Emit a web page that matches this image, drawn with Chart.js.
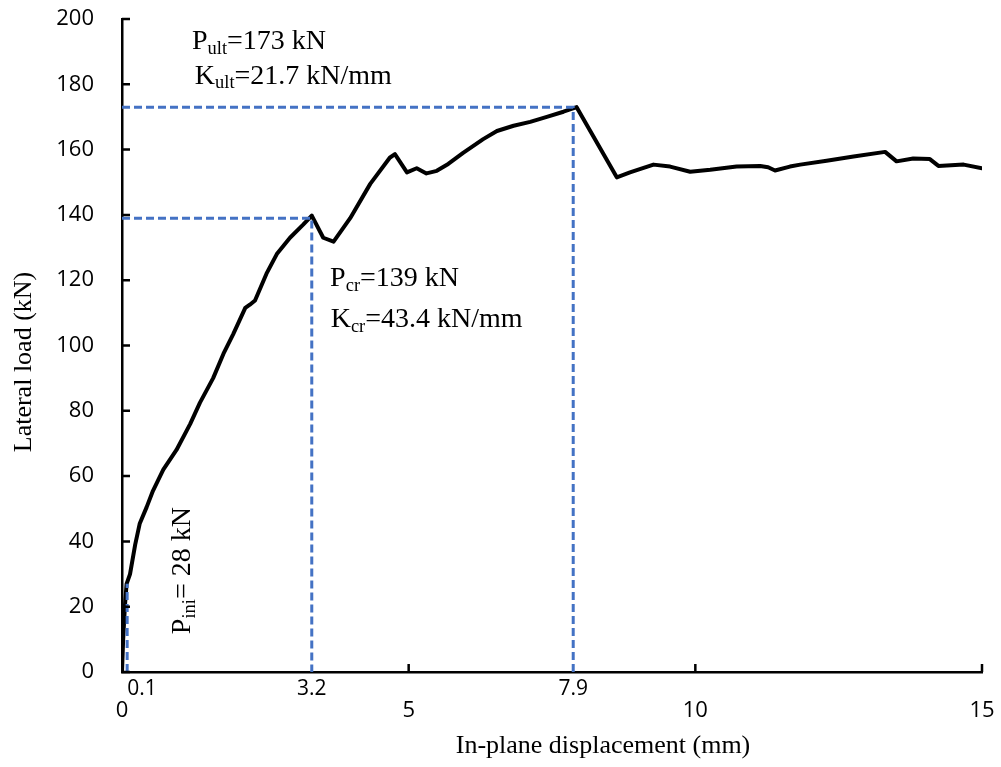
<!DOCTYPE html>
<html>
<head>
<meta charset="utf-8">
<title>Lateral load vs in-plane displacement</title>
<script src="https://cdn.jsdelivr.net/npm/chart.js@4.4.1/dist/chart.umd.min.js"></script>
<style>
  html, body { margin: 0; padding: 0; background: #ffffff; }
  #wrap { width: 1001px; height: 767px; position: relative; }
</style>
</head>
<body>
<div id="wrap"><canvas id="loadChart"></canvas></div>
<script>
// ======================================================
// DATA
// ======================================================

// load-displacement curve (mm, kN)
const dispMM = [
  0, 0.02, 0.05, 0.08, 0.14, 0.23, 0.31, 0.43, 0.54, 0.72, 0.95, 1.19, 1.36,
  1.59, 1.77, 1.94, 2.15, 2.23, 2.32, 2.52, 2.70, 2.93, 3.16, 3.31, 3.51, 3.69,
  3.98, 4.33, 4.67, 4.76, 4.97, 5.14, 5.31, 5.49, 5.69, 5.95, 6.30, 6.54, 6.83,
  7.12, 7.41, 7.70, 7.93, 8.63, 8.86, 9.27, 9.56, 9.91, 10.26, 10.72, 11.13,
  11.27, 11.39, 11.65, 11.83, 12.29, 12.76, 13.31, 13.51, 13.80, 14.09, 14.24,
  14.68, 15.0
];
const loadKN = [
  0, 10, 20, 27, 30, 39, 45.5, 50.5, 55.5, 62, 68, 76, 82.5,
  90, 97.5, 103.5, 111.5, 112.5, 113.8, 122, 128, 133, 137, 139.8, 133, 131.8,
  139, 149.5, 157.5, 158.6, 153, 154.3, 152.7, 153.5, 155.6, 159, 163.2, 165.7, 167.3,
  168.5, 170, 171.6, 173, 151.5, 153, 155.4, 154.8, 153.2, 153.8, 154.8, 155,
  154.6, 153.6, 154.8, 155.4, 156.6, 157.9, 159.3, 156.4, 157.3, 157.1, 155,
  155.4, 154.3
];

// dashed guide lines
const iniGuideX = [0.09, 0.09];
const iniGuideY = [0, 27];
const crGuideX = [0, 3.31, 3.31];
const crGuideY = [139, 139, 0];
const ultGuideX = [0, 7.87, 7.87];
const ultGuideY = [173, 173, 0];

// extra labels under the x axis
const markLabels = ["0.1", "3.2", "7.9"];
const markValues = [0.09, 3.31, 7.87];

const X_MIN = 0, X_MAX = 15, X_STEP = 5;
const Y_MIN = 0, Y_MAX = 200, Y_STEP = 20;

// ======================================================
// HELPERS
// ======================================================

function toPoints(xs, ys) {
  return xs.map((x, i) => ({ x: x, y: ys[i] }));
}

const SERIF = '"Liberation Serif", "Times New Roman", serif';
const SANS = '"Open Sans", "Liberation Sans", sans-serif';
const BLUE = "#4472c4";

// draws text with subscripts, parts = [{t, sub}]
function drawRich(ctx, parts, x, y, size) {
  let cx = x;
  parts.forEach((p) => {
    const s = p.sub ? size * 0.66 : size;
    ctx.font = `${s}px ${SERIF}`;
    ctx.fillText(p.t, cx, y + (p.sub ? size * 0.17 : 0));
    cx += ctx.measureText(p.t).width;
  });
}

function guideDataset(label, xs, ys) {
  return {
    label: label,
    data: toPoints(xs, ys),
    showLine: true,
    borderColor: BLUE,
    borderWidth: 3,
    borderDash: [8, 4],
    pointRadius: 0,
    order: 1,
  };
}

// ======================================================
// CUSTOM DRAWING (inner ticks, notes, titles)
// ======================================================

const decorPlugin = {
  id: "decor",
  afterDraw(chart) {
    const ctx = chart.ctx;
    const xs = chart.scales.x;
    const ys = chart.scales.y;
    const area = chart.chartArea;

    ctx.save();

    // tick marks inside the plot
    ctx.strokeStyle = "#000";
    ctx.lineWidth = 2.5;
    ctx.beginPath();
    for (let v = Y_MIN; v <= Y_MAX; v += Y_STEP) {
      const py = ys.getPixelForValue(v);
      ctx.moveTo(area.left, py);
      ctx.lineTo(area.left + 8, py);
    }
    for (let v = X_MIN + X_STEP; v <= X_MAX; v += X_STEP) {
      const px = xs.getPixelForValue(v);
      ctx.moveTo(px, area.bottom);
      ctx.lineTo(px, area.bottom - 8);
    }
    ctx.stroke();

    // extra displacement labels
    ctx.fillStyle = "#000";
    ctx.font = `21px ${SANS}`;
    ctx.textBaseline = "middle";
    markLabels.forEach((label, i) => {
      const px = xs.getPixelForValue(markValues[i]);
      ctx.textAlign = i === 0 ? "left" : "center";
      ctx.fillText(label, px, area.bottom + 17);
    });

    // notes
    ctx.textAlign = "left";
    ctx.textBaseline = "alphabetic";
    const size = 28;
    drawRich(ctx, [{ t: "P" }, { t: "ult", sub: true }, { t: "=173 kN" }],
      xs.getPixelForValue(1.22), ys.getPixelForValue(190.8), size);
    drawRich(ctx, [{ t: "K" }, { t: "ult", sub: true }, { t: "=21.7 kN/mm" }],
      xs.getPixelForValue(1.27), ys.getPixelForValue(180.2), size);
    drawRich(ctx, [{ t: "P" }, { t: "cr", sub: true }, { t: "=139 kN" }],
      xs.getPixelForValue(3.63), ys.getPixelForValue(118.3), size);
    drawRich(ctx, [{ t: "K" }, { t: "cr", sub: true }, { t: "=43.4 kN/mm" }],
      xs.getPixelForValue(3.64), ys.getPixelForValue(105.6), size);

    // P_ini, rotated
    ctx.save();
    ctx.translate(xs.getPixelForValue(1.19), ys.getPixelForValue(11.6));
    ctx.rotate(-Math.PI / 2);
    drawRich(ctx, [{ t: "P" }, { t: "ini", sub: true }, { t: "= 28 kN" }], 0, 0, size);
    ctx.restore();

    // axis titles
    ctx.font = `26px ${SERIF}`;
    ctx.textAlign = "center";
    ctx.textBaseline = "alphabetic";
    ctx.fillText("In-plane displacement (mm)", 603, 753);

    ctx.save();
    ctx.translate(31, 362);
    ctx.rotate(-Math.PI / 2);
    ctx.fillText("Lateral load (kN)", 0, 0);
    ctx.restore();

    ctx.restore();
  },
};

// ======================================================
// CHART
// ======================================================

const chartCtx = document.getElementById("loadChart").getContext("2d");

const loadChart = new Chart(chartCtx, {
  type: "scatter",
  data: {
    datasets: [
      {
        label: "Load",
        data: toPoints(dispMM, loadKN),
        showLine: true,
        borderColor: "#000000",
        borderWidth: 4,
        borderJoinStyle: "round",
        borderCapStyle: "round",
        tension: 0,
        pointRadius: 0,
        order: 2,
      },
      guideDataset("P ini", iniGuideX, iniGuideY),
      guideDataset("P cr", crGuideX, crGuideY),
      guideDataset("P ult", ultGuideX, ultGuideY),
    ],
  },
  options: {
    responsive: true,
    maintainAspectRatio: false,
    animation: false,
    layout: {
      padding: { top: 19, right: 19, left: 0, bottom: 0 },
    },
    plugins: {
      legend: { display: false },
      tooltip: { enabled: false },
    },
    scales: {
      x: {
        type: "linear",
        min: X_MIN,
        max: X_MAX,
        afterFit: (scale) => {
          scale.height = 95;
          scale.paddingLeft = 0;
          scale.paddingRight = 0;
        },
        ticks: {
          stepSize: X_STEP,
          color: "#000",
          padding: 26,
          font: { family: SANS, size: 22 },
          maxRotation: 0,
        },
        grid: { display: false, drawTicks: false },
        border: { display: true, color: "#000", width: 2.5 },
      },
      y: {
        min: Y_MIN,
        max: Y_MAX,
        afterFit: (scale) => {
          scale.width = 122;
          scale.paddingTop = 0;
          scale.paddingBottom = 0;
        },
        ticks: {
          stepSize: Y_STEP,
          color: "#000",
          padding: 28,
          font: { family: SANS, size: 22 },
        },
        grid: { display: false, drawTicks: false },
        border: { display: true, color: "#000", width: 2.5 },
      },
    },
  },
  plugins: [decorPlugin],
});
</script>
</body>
</html>
